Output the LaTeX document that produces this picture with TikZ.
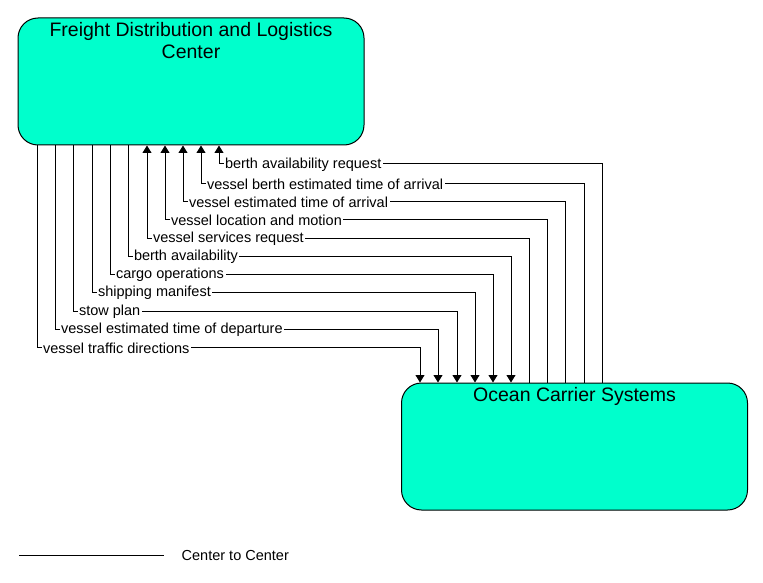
\documentclass[tikz,border=0pt]{standalone}
\usepackage{fontspec}
\setmainfont{Liberation Sans}
\usetikzlibrary{arrows.meta}
\definecolor{aqua}{HTML}{00FFCC}
\tikzset{
  sys/.style={draw=black,fill=aqua,rounded corners=20pt,line width=1pt,minimum width=346pt,minimum height=127pt,inner sep=0pt},
  titel/.style={font=\fontsize{19.5}{22}\selectfont,align=center,anchor=north,inner sep=0pt,yshift=-5pt},
  flow/.style={-{Triangle[length=7.5pt,width=9pt]},line width=1pt},
  plain/.style={line width=1pt},
  lbl/.style={font=\fontsize{14.5}{16}\selectfont,fill=white,anchor=west,inner sep=1.5pt,xshift=4pt,yshift=-1pt},
}
\begin{document}
\begin{tikzpicture}[x=1pt,y=-1pt]
  \useasboundingbox (0,0) rectangle (763,583);
  \node[sys,label={[titel]north:Freight Distribution and Logistics\\Center}] (fdlc) at (191,81.5) {};
  \node[sys,label={[titel]north:Ocean Carrier Systems}] (ocs) at (574.5,446.5) {};
  \draw[flow] (fdlc.south -| 37,0) -- (37,347) node[lbl]{vessel traffic directions} -- (420,347) -- (ocs.north -| 420,0);
  \draw[flow] (fdlc.south -| 55,0) -- (55,329) node[lbl]{vessel estimated time of departure} -- (438,329) -- (ocs.north -| 438,0);
  \draw[flow] (fdlc.south -| 73,0) -- (73,311) node[lbl]{stow plan} -- (457,311) -- (ocs.north -| 457,0);
  \draw[flow] (fdlc.south -| 92,0) -- (92,292) node[lbl]{shipping manifest} -- (475,292) -- (ocs.north -| 475,0);
  \draw[flow] (fdlc.south -| 110,0) -- (110,274) node[lbl]{cargo operations} -- (493,274) -- (ocs.north -| 493,0);
  \draw[flow] (fdlc.south -| 128,0) -- (128,256) node[lbl]{berth availability} -- (511,256) -- (ocs.north -| 511,0);
  \draw[flow] (ocs.north -| 529,0) -- (529,238) -- (147,238) node[lbl]{vessel services request} -- (fdlc.south -| 147,0);
  \draw[flow] (ocs.north -| 547,0) -- (547,219) -- (165,219) node[lbl]{vessel location and motion} -- (fdlc.south -| 165,0);
  \draw[flow] (ocs.north -| 565,0) -- (565,201) -- (183,201) node[lbl]{vessel estimated time of arrival} -- (fdlc.south -| 183,0);
  \draw[flow] (ocs.north -| 584,0) -- (584,183) -- (201,183) node[lbl]{vessel berth estimated time of arrival} -- (fdlc.south -| 201,0);
  \draw[flow] (ocs.north -| 602,0) -- (602,164) -- (219,164) node[lbl]{berth availability request} -- (fdlc.south -| 219,0);
  \coordinate (lga) at (19,555);
  \coordinate (lgb) at (164,555);
  \draw[plain] (lga) -- (lgb);
  \node[lbl,fill=none] (lgtxt) at (176,555) {Center to Center};
\end{tikzpicture}
\end{document}
